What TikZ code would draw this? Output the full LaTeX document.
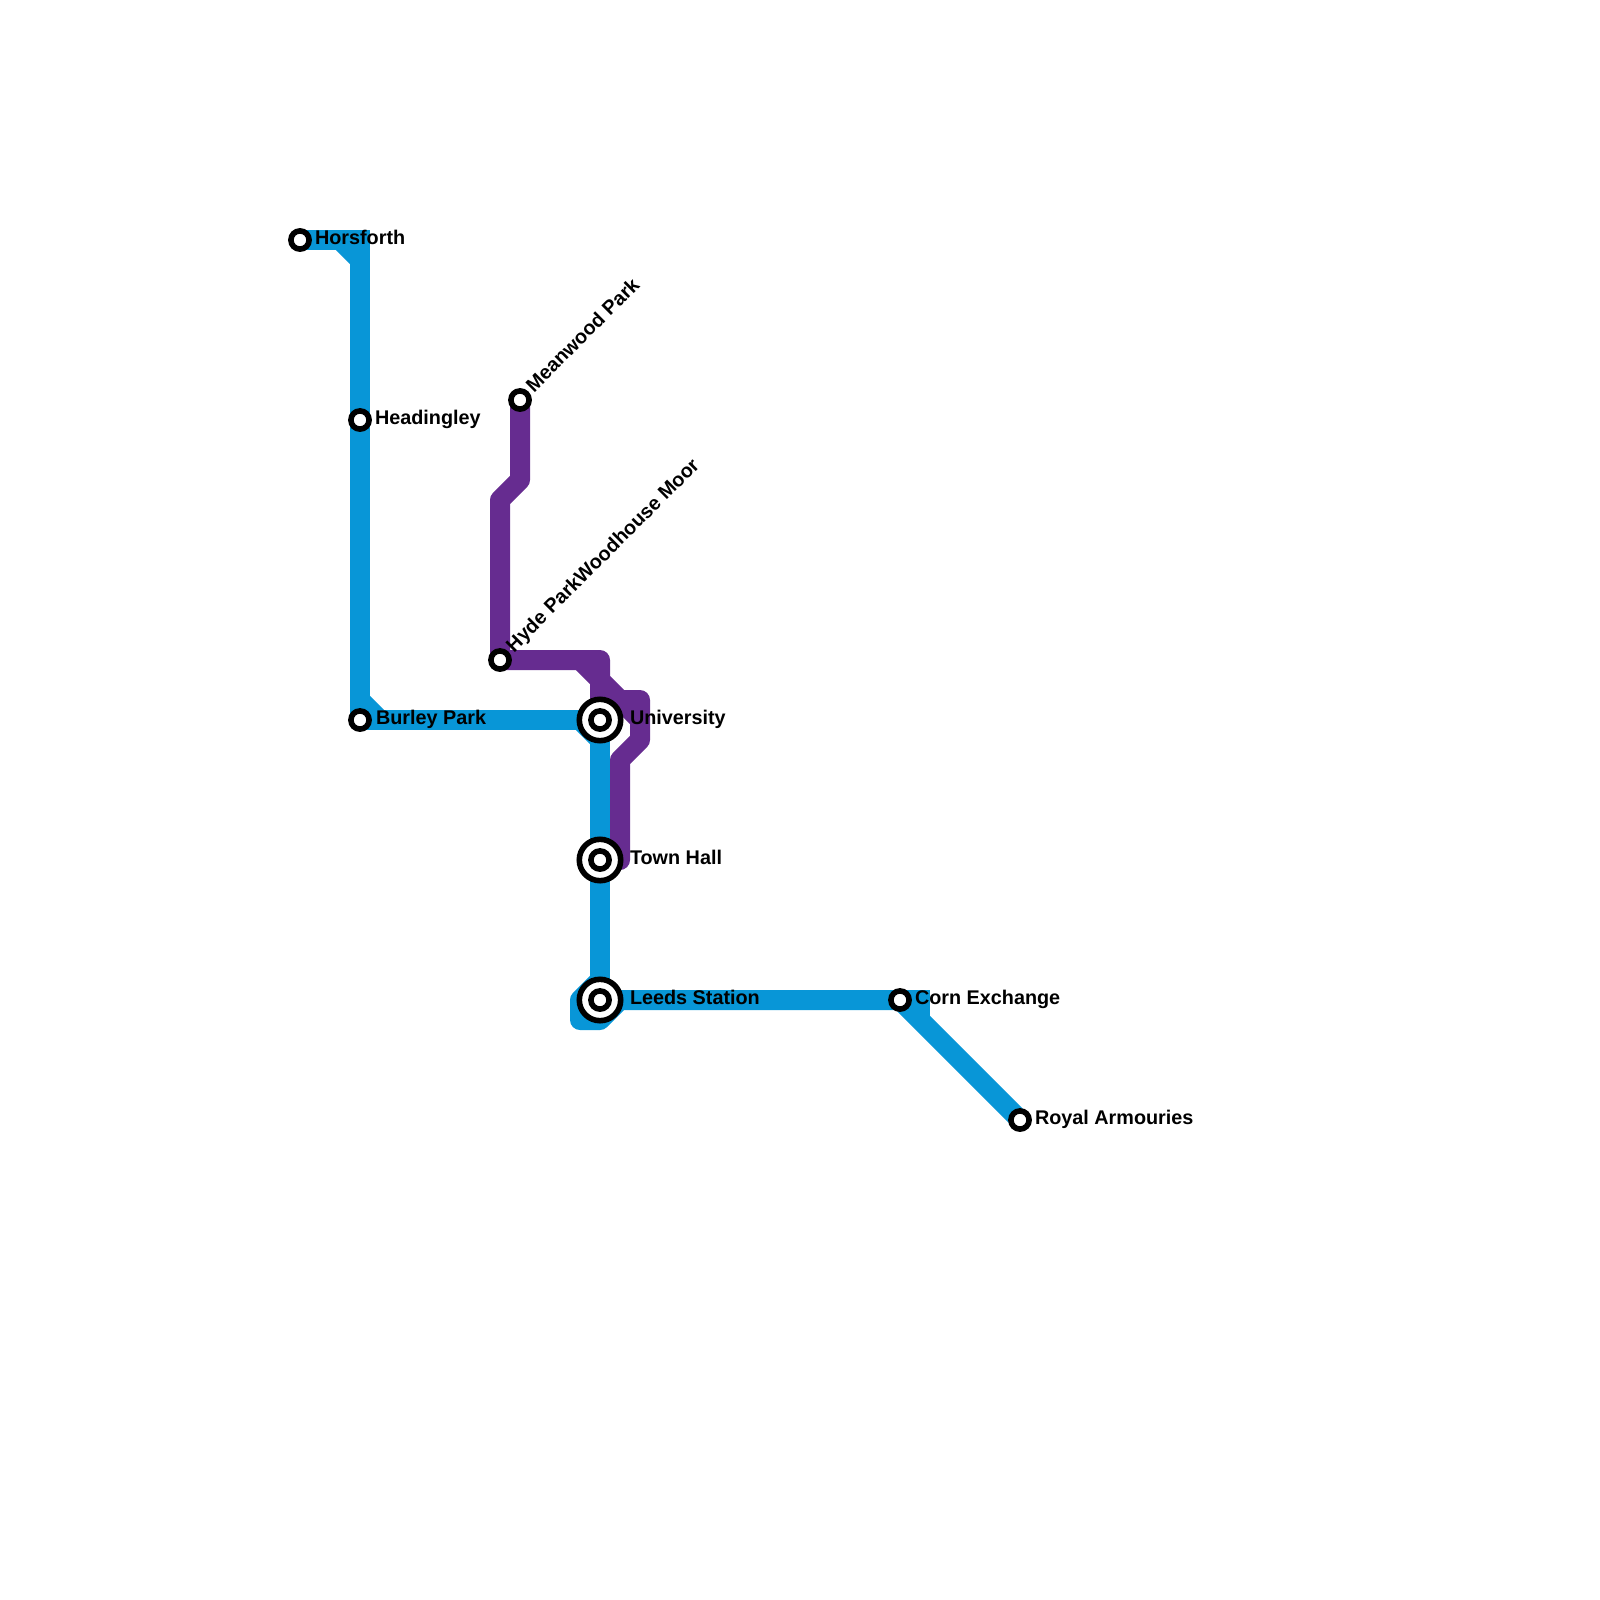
\documentclass[tikz,border=0pt]{standalone}
\usepackage{fontspec}
\setmainfont{Liberation Sans}
\definecolor{lineblue}{HTML}{0896D7}
\definecolor{linepurple}{HTML}{662C90}
\tikzset{
  bluemiter/.style={draw=lineblue,line width=20pt,line join=miter,miter limit=10},
  blueround/.style={draw=lineblue,line width=20pt,line join=round},
  purpleline/.style={draw=linepurple,line width=20pt,line join=round,line cap=round},
  stop/.style={circle,draw=black,fill=white,line width=5.6pt,minimum size=18.2pt,inner sep=0pt,outer sep=0pt},
  hubring/.style={circle,draw=black,fill=white,line width=5.6pt,minimum size=41.4pt,inner sep=0pt,outer sep=0pt},
  lab/.style={anchor=base west,inner sep=0pt,outer sep=0pt,font=\fontsize{19.8}{24}\selectfont\bfseries},
  dlab/.style={lab,rotate=45}
}
\begin{document}
\begin{tikzpicture}[x=1pt,y=-1pt]
\useasboundingbox (0,0) rectangle (1600,1600);
% stations' positions
\coordinate (horsforth) at (300,240);
\coordinate (headingley) at (360,420);
\coordinate (burley) at (360,720);
\coordinate (meanwood) at (520,400);
\coordinate (hyde) at (500,660);
\coordinate (university) at (600,720);
\coordinate (townhall) at (600,860);
\coordinate (leeds) at (600,1000);
\coordinate (corn) at (900,1000);
\coordinate (royal) at (1020,1120);
% blue line
\draw[bluemiter] (horsforth) -- (360,240) -- (headingley);
\draw[blueround] (headingley) -- (burley) -- (university) -- (townhall) -- (leeds);
\draw[bluemiter] (340,240) -- (360,260);
\draw[bluemiter] (360,700) -- (380,720);
\draw[bluemiter] (580,720) -- (600,740);
\draw[blueround] (600,980) -- (580,1000) -- (580,1020) -- (600,1020) -- (620,1000) -- (corn);
\draw[bluemiter] (leeds) -- (corn) -- (920,1000) -- (920,1020);
\draw[bluemiter] (corn) -- (royal);
% purple line
\draw[purpleline] (meanwood) -- (520,480) -- (500,500) -- (hyde) -- (600,660) -- (600,680) -- (620,700) -- (640,700) -- (640,740) -- (620,760) -- (620,860);
\draw[purpleline] (580,660) -- (600,680) -- (university);
\draw[purpleline] (620,700) -- (640,720);
% stations
\foreach \s in {horsforth,headingley,burley,meanwood,hyde,corn,royal}
  \node[stop] (\s-stop) at (\s) {};
\foreach \s in {university,townhall,leeds}{
  \node[hubring] (\s-ring) at (\s) {};
  \node[stop] (\s-stop) at (\s) {};
}
% labels
\node[lab] (l1) at (315,244.3) {Horsforth};
\node[lab] (l2) at (375,424.6) {Headingley};
\node[lab] (l3) at (376,724.6) {Burley Park};
\node[lab] (l4) at (630,724.6) {University};
\node[lab] (l5) at (630,864.6) {Town Hall};
\node[lab] (l6) at (630,1004.3) {Leeds Station};
\node[lab] (l7) at (915,1004.3) {Corn Exchange};
\node[lab] (l8) at (1035,1124.5) {Royal Armouries};
\node[dlab] (l9) at (534,393) {Meanwood Park};
\node[dlab] (l10) at (514,653) {Hyde ParkWoodhouse Moor};
\end{tikzpicture}
\end{document}
